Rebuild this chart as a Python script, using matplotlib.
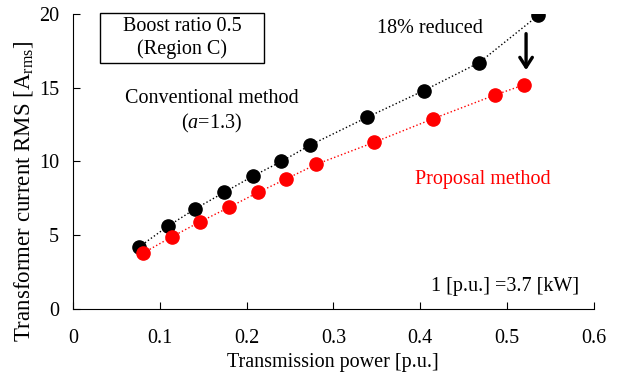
import matplotlib.pyplot as plt
from matplotlib.patches import Rectangle

plt.rcParams['font.family'] = ['Liberation Serif', 'DejaVu Serif']
plt.rcParams['mathtext.fontset'] = 'custom'
plt.rcParams['mathtext.rm'] = 'Liberation Serif'
plt.rcParams['mathtext.it'] = 'Liberation Serif:italic'

# conventional method (a=1.3)
conv_power = [0.076, 0.109, 0.141, 0.174, 0.207, 0.240, 0.273, 0.339, 0.404, 0.468, 0.536]
conv_rms = [4.2, 5.6, 6.8, 7.9, 9.0, 10.0, 11.1, 13.0, 14.8, 16.7, 19.9]

# proposal method
prop_power = [0.081, 0.114, 0.146, 0.180, 0.213, 0.245, 0.280, 0.347, 0.415, 0.486, 0.520]
prop_rms = [3.8, 4.9, 5.9, 6.9, 7.9, 8.8, 9.8, 11.3, 12.9, 14.5, 15.2]

xticks = [0, 0.1, 0.2, 0.3, 0.4, 0.5, 0.6]
xticklabels = ['0', '0.1', '0.2', '0.3', '0.4', '0.5', '0.6']
yticks = [0, 5, 10, 15, 20]

fs = 14.5

fig = plt.figure(figsize=(6.29, 3.76), dpi=100)
ax = fig.add_axes([0.116, 0.178, 0.828, 0.785])

ax.plot(conv_power, conv_rms, color='black', ls=':', lw=1, marker='o',
        markersize=9.5, zorder=3)
ax.plot(prop_power, prop_rms, color='red', ls=':', lw=1, marker='o',
        markersize=9.5, zorder=3)

ax.set_xlim(0, 0.6)
ax.set_ylim(0, 20)
ax.set_xticks(xticks)
ax.set_xticklabels(xticklabels)
ax.set_yticks(yticks)
ax.tick_params(direction='in', length=5, labelsize=fs)
ax.tick_params(axis='x', pad=14)
ax.tick_params(axis='y', pad=10)
for s in ['top', 'right']:
    ax.spines[s].set_visible(False)

ax.set_xlabel('Transmission power [p.u.]', fontsize=fs, labelpad=4)
ax.set_ylabel(r'Transformer current RMS [A$_{\mathrm{rms}}$]', fontsize=16.5)
ax.yaxis.set_label_coords(-0.073, 0.40)

# condition box in the upper left corner
ax.add_patch(Rectangle((0.031, 16.68), 0.189, 3.39, fill=False, ec='black',
                       lw=1, clip_on=False, zorder=4))
ax.text(0.1256, 18.37, 'Boost ratio 0.5\n(Region C)', ha='center', va='center',
        fontsize=fs, linespacing=1.2)

ax.text(0.160, 14.3, 'Conventional method', ha='center', va='center', fontsize=fs)
ax.text(0.160, 12.6, r'($\it{a}$=1.3)', ha='center', va='center', fontsize=fs)
ax.text(0.411, 19.0, '18% reduced', ha='center', va='center', fontsize=fs)
ax.text(0.472, 8.75, 'Proposal method', ha='center', va='center', fontsize=fs,
        color='red')
ax.text(0.498, 1.56, '1 [p.u.] =3.7 [kW]', ha='center', va='center', fontsize=fs)

ax.annotate('', xy=(0.522, 16.0), xytext=(0.522, 18.85),
            arrowprops=dict(arrowstyle='->,head_length=0.7,head_width=0.45',
                            color='black', lw=2.4))

fig.savefig('out.png', dpi=100)
